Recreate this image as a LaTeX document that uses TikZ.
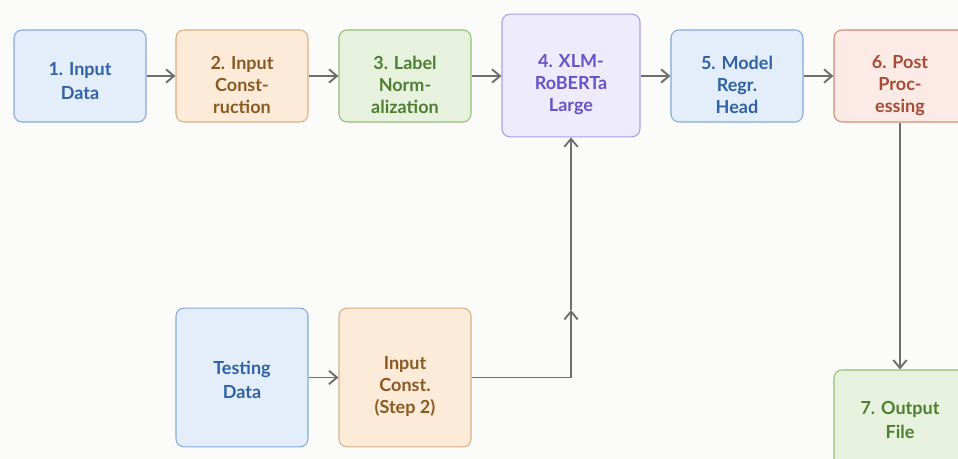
\documentclass[tikz,border=0pt]{standalone}
\usepackage{fontspec}
\setmainfont{Lato}
\usetikzlibrary{arrows.meta}
\definecolor{bg}{HTML}{FBFBFA}
\definecolor{bfill}{HTML}{E4EEFA}
\definecolor{bdraw}{HTML}{82AADB}
\definecolor{btext}{HTML}{2F62A6}
\definecolor{ofill}{HTML}{FBEBD8}
\definecolor{odraw}{HTML}{D8B083}
\definecolor{otext}{HTML}{8A5A22}
\definecolor{gfill}{HTML}{E7F2DE}
\definecolor{gdraw}{HTML}{93BE76}
\definecolor{gtext}{HTML}{4E7E30}
\definecolor{pfill}{HTML}{EEEBFC}
\definecolor{pdraw}{HTML}{AC9FE8}
\definecolor{ptext}{HTML}{6853C6}
\definecolor{rfill}{HTML}{FBEAE5}
\definecolor{rdraw}{HTML}{D48A73}
\definecolor{rtext}{HTML}{A84A33}
\definecolor{arr}{HTML}{6E6E6B}
\newcommand{\droptext}[1]{\rule{0pt}{#1}}
\tikzset{
  box/.style={draw, rounded corners=6pt, line width=0.8pt, align=center,
    inner sep=0pt, font=\fontsize{13.5}{18}\selectfont\bfseries},
  threeline/.style={font=\fontsize{13.5}{16.5}\selectfont\bfseries},
  bluebox/.style={box, fill=bfill, draw=bdraw, text=btext},
  orangebox/.style={box, fill=ofill, draw=odraw, text=otext},
  greenbox/.style={box, fill=gfill, draw=gdraw, text=gtext},
  purplebox/.style={box, fill=pfill, draw=pdraw, text=ptext},
  redbox/.style={box, fill=rfill, draw=rdraw, text=rtext},
  link/.style={draw=arr, line width=1.4pt, -{Straight Barb[length=6pt,width=10pt,line width=1.4pt]}},
}
\begin{document}
\begin{tikzpicture}[x=0.75pt,y=-0.75pt]
\path[fill=bg] (0,0) rectangle (958,459);
\useasboundingbox (0,0) rectangle (958,459);
% top row
\node[bluebox, minimum width=99pt, minimum height=69pt] (n1) at (80,76) {\droptext{17.5pt}1. Input\\Data};
\node[orangebox, threeline, minimum width=99pt, minimum height=69pt] (n2) at (242,76) {\droptext{24pt}2. Input\\Const-\\ruction};
\node[greenbox, threeline, minimum width=99pt, minimum height=69pt] (n3) at (405,76) {\droptext{24pt}3. Label\\Norm-\\alization};
\node[purplebox, threeline, minimum width=103.5pt, minimum height=92pt] (n4) at (571,75.5) {\droptext{23.5pt}4. XLM-\\RoBERTa\\Large};
\node[bluebox, threeline, minimum width=99pt, minimum height=69pt] (n5) at (737,76) {\droptext{23.5pt}5. Model\\Regr.\\Head};
\node[redbox, threeline, minimum width=99pt, minimum height=69pt] (n6) at (900,76) {\droptext{23.5pt}6. Post\\Proc-\\essing};
% bottom row
\node[bluebox, minimum width=99pt, minimum height=104pt] (td) at (242,377.5) {\droptext{13.8pt}Testing\\Data};
\node[orangebox, threeline, minimum width=99pt, minimum height=104pt] (ic) at (405,377.5) {\droptext{22.8pt}Input\\Const.\\(Step 2)};
\node[greenbox, minimum width=99pt, minimum height=75pt] (n7) at (900,420) {7. Output\\File};
% connectors
\coordinate (j) at (571,310);
\draw[link] (n1) -- (n2);
\draw[link] (n2) -- (n3);
\draw[link] (n3) -- (n4.west |- n3.east);
\draw[link] (n4.east |- n5.west) -- (n5);
\draw[link] (n5) -- (n6);
\draw[link] (td) -- (ic);
\draw[link] (j) -- (n4.south);
\draw[link] (ic.east) -| (j);
\draw[link] (n6.south) -- (n7.north);
\end{tikzpicture}
\end{document}
